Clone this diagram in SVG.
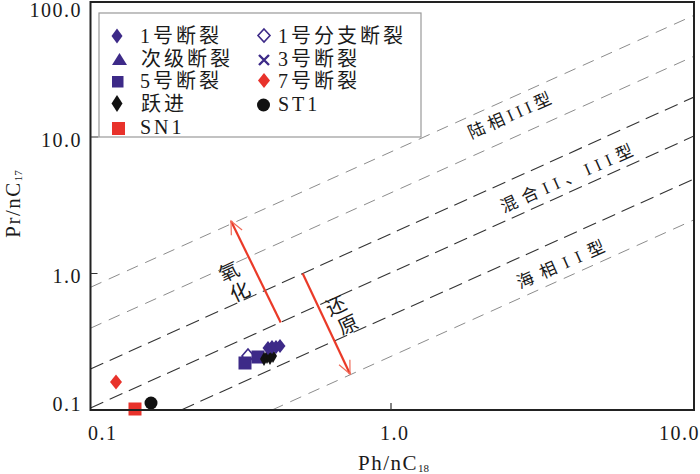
<svg xmlns="http://www.w3.org/2000/svg" width="700" height="474" viewBox="0 0 700 474">
<style>
text{font-family:"Liberation Serif","Noto Sans CJK SC",serif;fill:#1a1a1a}
.tick{font-size:20px;letter-spacing:1.5px}
.leg{font-size:20px;letter-spacing:3px}
.ttl{font-size:21px;letter-spacing:1.5px}
.sub{font-size:11px;letter-spacing:0}
.zone{font-size:17px}
.ann{font-size:20px}
.dk{stroke:#333;stroke-width:1.1;stroke-dasharray:14 7;fill:none}
.lt{stroke:#8c8c8c;stroke-width:1;stroke-dasharray:12 8;fill:none}
.arr{stroke:#ea3a28;stroke-width:2.2;fill:none}
.pu{fill:#3d2a88}
.rd{fill:#e8322b}
.bk{fill:#111}
</style>
<defs>
<marker id="ah" markerUnits="userSpaceOnUse" markerWidth="20" markerHeight="20" refX="0" refY="0" orient="auto" overflow="visible">
<path d="M-13,-6 L0,0 L-13,6" fill="none" stroke="#f06a58" stroke-width="1.2"/>
</marker>
<clipPath id="plot"><rect x="90.5" y="2" width="603.5" height="408"/></clipPath>
</defs>
<rect width="700" height="474" fill="#fff"/>

<g id="guides" clip-path="url(#plot)">
<path class="lt" d="M90.5,287.3 L694,15.3"/>
<path class="lt" d="M90.5,328.2 L694,56.2"/>
<path class="dk" d="M90.5,369.1 L694,97.1"/>
<path class="dk" d="M90.5,408 L694,136"/>
<path class="dk" d="M181.2,410 L694,178.9"/>
<path class="lt" d="M272,410 L694,219.8"/>
</g>

<g id="zone-labels">
<text class="zone" x="512" y="121" text-anchor="middle" textLength="89" lengthAdjust="spacing" transform="rotate(-24 512 121)">陆相III型</text>
<text class="zone" x="569" y="184" text-anchor="middle" textLength="143" lengthAdjust="spacing" transform="rotate(-24 569 184)">混合II、III型</text>
<text class="zone" x="563" y="270" text-anchor="middle" textLength="94" lengthAdjust="spacing" transform="rotate(-24 563 270)">海相II型</text>
</g>

<g id="connectors">
<path class="arr" d="M280.7,322.5 L231,221" marker-end="url(#ah)"/>
<path class="arr" d="M302.7,273.5 L350,374" marker-end="url(#ah)"/>
</g>

<g id="annotations">
<text class="ann" x="229" y="279" text-anchor="middle" transform="rotate(-25 229 272)">氧</text>
<text class="ann" x="240" y="299" text-anchor="middle" transform="rotate(-25 240 292)">化</text>
<text class="ann" x="336" y="313" text-anchor="middle" transform="rotate(-25 336 306)">还</text>
<text class="ann" x="348" y="332" text-anchor="middle" transform="rotate(-25 348 325)">原</text>
</g>

<g id="data">
<polygon class="rd" points="116,374.5 122,382 116,389.5 110,382"/>
<path d="M248,349 L254,356 L248,363 L242,356 Z" fill="#fff" stroke="#3d2a88" stroke-width="1.6"/>
<rect class="pu" x="238.5" y="356.5" width="13" height="13"/>
<rect class="pu" x="251.5" y="350.5" width="13" height="13"/>
<polygon class="bk" points="264,352 268,359 264,366 260,359"/>
<polygon class="bk" points="267,350 271,357 267,364 263,357"/>
<polygon class="bk" points="270,351 274,358 270,365 266,358"/>
<polygon class="bk" points="273,349 277,356 273,363 269,356"/>
<polygon class="pu" points="268,341 273.5,348 268,355 262.5,348"/>
<polygon class="pu" points="272,340 277.5,347 272,354 266.5,347"/>
<polygon class="pu" points="276,340 281.5,347 276,354 270.5,347"/>
<polygon class="pu" points="280,339 285.5,346 280,353 274.5,346"/>
<rect class="rd" x="128.5" y="402.5" width="13" height="13"/>
<circle class="bk" cx="151" cy="403" r="6.5"/>
</g>

<g id="frame">
<rect x="90.5" y="2" width="603.5" height="408" fill="none" stroke="#222" stroke-width="2"/>
<path d="M90.5,273.5 h7 M90.5,137 h8 M391,410 v-7" stroke="#333" stroke-width="1.2" fill="none"/>
</g>

<g id="axis-labels">
<text class="tick" x="82" y="17" text-anchor="end">100.0</text>
<text class="tick" x="82" y="147" text-anchor="end">10.0</text>
<text class="tick" x="82" y="283" text-anchor="end">1.0</text>
<text class="tick" x="82" y="411" text-anchor="end">0.1</text>
<text class="tick" x="88" y="440">0.1</text>
<text class="tick" x="380" y="440">1.0</text>
<text class="tick" x="659" y="440">10.0</text>
<text class="ttl" x="358" y="470">Ph/nC<tspan class="sub" dy="2">18</tspan></text>
<text class="ttl" x="20" y="204" text-anchor="middle" transform="rotate(-90 20 204)">Pr/nC<tspan class="sub" dy="2">17</tspan></text>
</g>

<g id="legend">
<rect x="99" y="13" width="322" height="124" fill="#fff" stroke="#999" stroke-width="1.2"/>
<g id="leg-f1"><polygon class="pu" points="117,28.5 122.5,36 117,43.5 111.5,36"/><text class="leg" x="140" y="43">1号断裂</text></g>
<g id="leg-f1b"><polygon points="264,29 270,35.5 264,42 258,35.5" fill="#fff" stroke="#3d2a88" stroke-width="1.6"/><text class="leg" x="278" y="43">1号分支断裂</text></g>
<g id="leg-sec"><polygon class="pu" points="119.5,53 127,65 112,65"/><text class="leg" x="141" y="66">次级断裂</text></g>
<g id="leg-f3"><path d="M259,55 L269,65 M269,55 L259,65" stroke="#3d2a88" stroke-width="2.4" fill="none"/><text class="leg" x="278" y="66">3号断裂</text></g>
<g id="leg-f5"><rect class="pu" x="112" y="76" width="11.5" height="11.5"/><text class="leg" x="140" y="88">5号断裂</text></g>
<g id="leg-f7"><polygon class="rd" points="264,73 270,80.5 264,88 258,80.5"/><text class="leg" x="278" y="88">7号断裂</text></g>
<g id="leg-yj"><polygon class="bk" points="117,95 122.5,103.5 117,112 111.5,103.5"/><text class="leg" x="141" y="111">跃进</text></g>
<g id="leg-st1"><circle class="bk" cx="263.5" cy="105" r="6.5"/><text class="leg" x="278" y="111">ST1</text></g>
<g id="leg-sn1"><rect class="rd" x="112" y="122" width="13" height="13"/><text class="leg" x="140" y="134">SN1</text></g>
</g>
</svg>
